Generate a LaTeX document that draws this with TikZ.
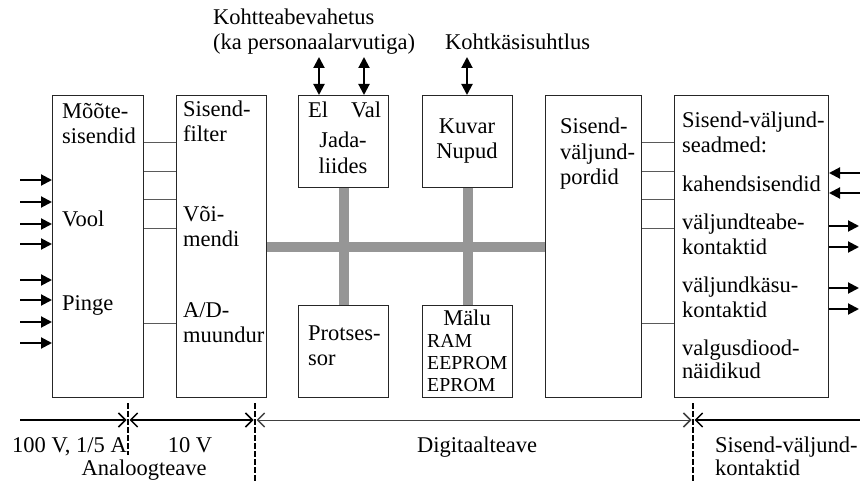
\documentclass[tikz,border=0pt]{standalone}
\usepackage{fontspec}
\setmainfont{Liberation Serif}
\usetikzlibrary{arrows.meta}
\definecolor{busgray}{RGB}{150,150,150}
\definecolor{linegray}{RGB}{90,90,90}
\tikzset{
  box/.style={draw=black!85, line width=1pt, anchor=north west, inner sep=0pt},
  lbl/.style={anchor=base west, inner sep=0pt, font=\fontsize{22.5}{25}\selectfont},
  lblc/.style={anchor=base, inner sep=0pt, font=\fontsize{22.5}{25}\selectfont},
  lbls/.style={anchor=base west, inner sep=0pt, font=\fontsize{19.8}{22}\selectfont},
  conn/.style={draw=linegray, line width=1pt},
  bus/.style={draw=busgray, line width=10pt},
  arr/.style={line width=2pt, -{Triangle[length=11pt,width=11pt]}},
  dbl/.style={line width=2pt, {Triangle[length=11pt,width=11pt]}-{Triangle[length=11pt,width=11pt]}},
  barb/.style={line width=1.5pt},
  tickline/.style={line width=1.6pt, dash pattern=on 6pt off 2pt},
}
\begin{document}
\begin{tikzpicture}[x=1pt,y=-1pt]
\useasboundingbox (0,0) rectangle (860,481);

% coordinates for levels
\coordinate (ybus) at (0,247);
\coordinate (c1) at (0,143);
\coordinate (c2) at (0,172);
\coordinate (c3) at (0,200);
\coordinate (c4) at (0,229);
\coordinate (c5) at (0,323);

% boxes
\node[box, minimum width=91, minimum height=302] (b1) at (52,95) {};
\node[box, minimum width=90, minimum height=302] (b2) at (176,95) {};
\node[box, minimum width=90, minimum height=92] (jada) at (298,95) {};
\node[box, minimum width=90, minimum height=92] (kuvar) at (422,95) {};
\node[box, minimum width=90, minimum height=92] (prots) at (298,305) {};
\node[box, minimum width=90, minimum height=92] (malu) at (422,305) {};
\node[box, minimum width=96, minimum height=302] (b5) at (545,95) {};
\node[box, minimum width=154, minimum height=302] (b6) at (674,95) {};

% bus
\draw[bus] (b2.east |- ybus) -- (b5.west |- ybus);
\draw[bus] (jada.south) -- (prots.north);
\draw[bus] (kuvar.south) -- (malu.north);

% connectors between boxes
\foreach \c in {c1,c2,c3,c4,c5}{
  \draw[conn] (b1.east |- \c) -- (b2.west |- \c);
  \draw[conn] (b5.east |- \c) -- (b6.west |- \c);
}

% input arrows
\foreach \yy [count=\i] in {180,202,224,244,280,300,322,343}{
  \coordinate (in\i) at (20,\yy);
  \draw[arr] (in\i) -- (in\i -| b1.west);
}

% right side arrows
\coordinate (o1) at (860,173);
\coordinate (o2) at (860,193);
\draw[arr] (o1) -- (o1 -| b6.east);
\draw[arr] (o2) -- (o2 -| b6.east);
\foreach \yy [count=\i] in {226,247,288,309}{
  \coordinate (r\i) at (859,\yy);
  \draw[arr] (r\i -| b6.east) -- (r\i);
}

% top double arrows
\coordinate (t1) at (319,57);
\coordinate (t2) at (364,57);
\coordinate (t3) at (467,57);
\draw[dbl] (t1) -- (t1 |- jada.north);
\draw[dbl] (t2) -- (t2 |- jada.north);
\draw[dbl] (t3) -- (t3 |- kuvar.north);

% top labels
\node[lbl] (tl1) at (213,25) {Kohtteabevahetus};
\node[lbl] (tl2) at (213,50) {(ka personaalarvutiga)};
\node[lbl] (tl3) at (445,50) {Kohtkäsisuhtlus};

% box 1 labels
\node[lbl] (l11) at (62,119) {Mõõte-};
\node[lbl] (l12) at (62,144) {sisendid};
\node[lbl] (l13) at (62,227) {Vool};
\node[lbl] (l14) at (62,310) {Pinge};

% box 2 labels
\node[lbl] (l21) at (183,117) {Sisend-};
\node[lbl] (l22) at (183,142) {filter};
\node[lbl] (l23) at (183,222) {Või-};
\node[lbl] (l24) at (183,247) {mendi};
\node[lbl] (l25) at (183,317) {A/D-};
\node[lbl] (l26) at (183,342) {muundur};

% jada
\node[lbl] (lj1) at (308,118) {El};
\node[lbl] (lj2) at (351,118) {Val};
\node[lblc] (lj3) at (343,148) {Jada-};
\node[lblc] (lj4) at (343,174) {liides};

% kuvar
\node[lblc] (lk1) at (467,134) {Kuvar};
\node[lblc] (lk2) at (467,159) {Nupud};

% protsessor
\node[lbl] (lp1) at (308,340) {Protses-};
\node[lbl] (lp2) at (308,365) {sor};

% malu
\node[lblc] (lm1) at (467,325) {Mälu};
\node[lbls] (lm2) at (427,347) {RAM};
\node[lbls] (lm3) at (427,369) {EEPROM};
\node[lbls] (lm4) at (427,391) {EPROM};

% box 5
\node[lbl] (l51) at (560,134) {Sisend-};
\node[lbl] (l52) at (560,160) {väljund-};
\node[lbl] (l53) at (560,185) {pordid};

% box 6
\node[lbl] (l61) at (682,128) {Sisend-väljund-};
\node[lbl] (l62) at (682,153) {seadmed:};
\node[lbl] (l63) at (682,192) {kahendsisendid};
\node[lbl] (l64) at (682,230) {väljundteabe-};
\node[lbl] (l65) at (682,255) {kontaktid};
\node[lbl] (l66) at (682,293) {väljundkäsu-};
\node[lbl] (l67) at (682,317) {kontaktid};
\node[lbl] (l68) at (682,355) {valgusdiood-};
\node[lbl] (l69) at (682,378) {näidikud};

% bottom dimension lines
\coordinate (v1) at (128,403);
\coordinate (v2) at (255,403);
\coordinate (v3) at (693,403);
\coordinate (dy) at (0,420);
\coordinate (dl) at (20,420);
\coordinate (dr) at (860,420);
\draw[tickline] (v1) -- ++(0,52);
\draw[tickline] (v2) -- ++(0,78);
\draw[tickline] (v3) -- ++(0,78);
\draw[barb, -{Straight Barb[length=7pt,width=14pt]}, shorten >=1.5pt] (dl) -- (v1 |- dy);
\draw[barb, {Straight Barb[length=7pt,width=14pt]}-{Straight Barb[length=7pt,width=14pt]}, shorten >=1.5pt, shorten <=1.5pt] (v1 |- dy) -- (v2 |- dy);
\draw[line width=1pt, draw=black!75, {Straight Barb[length=7pt,width=14pt,line width=1.5pt]}-{Straight Barb[length=7pt,width=14pt,line width=1.5pt]}, shorten >=1.5pt, shorten <=1.5pt] (v2 |- dy) -- (v3 |- dy);
\draw[barb, -{Straight Barb[length=7pt,width=14pt]}, shorten >=1.5pt] (dr) -- (v3 |- dy);

% bottom labels
\node[lbl] (bl1) at (12,452) {100 V, 1/5 A};
\node[lblc] (bl2) at (190,452) {10 V};
\node[lblc] (bl3) at (144,475) {Analoogteave};
\node[lblc] (bl4) at (477,452) {Digitaalteave};
\node[lbl] (bl5) at (715,452) {Sisend-väljund-};
\node[lbl] (bl6) at (715,475) {kontaktid};
\end{tikzpicture}
\end{document}
